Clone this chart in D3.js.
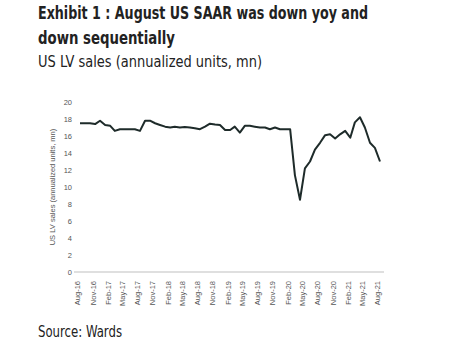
<!DOCTYPE html>
<html>
<head>
<meta charset="utf-8">
<script src="https://cdn.jsdelivr.net/npm/d3@7"></script>
<style>
  body { margin: 0; background: #fff; }
  svg { display: block; }
</style>
</head>
<body>
<svg></svg>
<script>
let width = 451, height = 346;

// Monthly SAAR, Aug-16 .. Aug-21 (mn units)
const months = d3.timeMonths(new Date(2016, 7, 1), new Date(2021, 8, 1));
const sales = [
  17.5, 17.5, 17.5, 17.4, 17.8, 17.3, 17.2, 16.6, 16.8, 16.8, 16.8, 16.8, 16.6,
  17.8, 17.8, 17.5, 17.3, 17.1, 17.0, 17.1, 17.0, 17.05, 17.0, 16.9, 16.8,
  17.1, 17.45, 17.35, 17.3, 16.7, 16.7, 17.1, 16.4, 17.2, 17.2, 17.1, 17.0,
  17.0, 16.8, 17.0, 16.8, 16.8, 16.8, 11.4, 8.5, 12.2, 13.0, 14.4, 15.2,
  16.1, 16.2, 15.7, 16.2, 16.6, 15.8, 17.6, 18.2, 17.0, 15.2, 14.6, 13.0
];
const yTicks = [0, 2, 4, 6, 8, 10, 12, 14, 16, 18, 20];

const titleLines = ["Exhibit 1 : August US SAAR was down yoy and", "down sequentially"];
const subtitle = "US LV sales (annualized units, mn)";
const source = "Source: Wards";
const yLabel = "US LV sales (annualized units, mn)";

let data = months.map((m, i) => ({ date: m, value: sales[i] }));

let svg = d3.select("svg")
  .attr("width", width)
  .attr("height", height);

let font = "'DejaVu Sans Condensed', 'Liberation Sans', sans-serif";

// Titles (squeezed to the condensed look of the original)
let titleWidths = [330, 137];
svg.append("g").selectAll("text")
  .data(titleLines)
  .enter().append("text")
  .attr("x", 38)
  .attr("y", (d, i) => 18.5 + i * 25)
  .attr("textLength", (d, i) => titleWidths[i])
  .attr("lengthAdjust", "spacingAndGlyphs")
  .style("font-family", font)
  .style("font-weight", "bold")
  .style("font-size", "17px")
  .style("fill", "#222")
  .text(d => d);

svg.append("text")
  .attr("x", 38)
  .attr("y", 66.5)
  .attr("textLength", 224)
  .attr("lengthAdjust", "spacingAndGlyphs")
  .style("font-family", font)
  .style("font-size", "16.5px")
  .style("fill", "#222")
  .text(subtitle);

svg.append("text")
  .attr("x", 38)
  .attr("y", 336.5)
  .attr("textLength", 84)
  .attr("lengthAdjust", "spacingAndGlyphs")
  .style("font-family", font)
  .style("font-size", "15px")
  .style("fill", "#222")
  .text(source);

// Scales
let x = d3.scaleTime()
  .domain([months[0], months[months.length - 1]])
  .range([80, 380]);

let y = d3.scaleLinear()
  .domain([0, 20])
  .range([272, 102]);

// Y axis labels (no axis line)
let yAxis = svg.append("g")
  .attr("transform", "translate(72,0)")
  .call(d3.axisLeft(y).tickValues(yTicks).tickSize(0).tickPadding(0));
yAxis.select(".domain").remove();
yAxis.selectAll("text")
  .style("font-family", "'Liberation Sans', Arial, sans-serif")
  .style("font-size", "7.5px")
  .style("fill", "#555");

// X baseline
svg.append("line")
  .attr("x1", 74).attr("x2", 384)
  .attr("y1", y(0)).attr("y2", y(0))
  .attr("stroke", "#d4d4d4")
  .attr("stroke-width", 1.5);

// X axis labels, every quarter
let xTicks = months.filter((m, i) => i % 3 === 0);
let xAxis = svg.append("g")
  .attr("transform", "translate(0," + y(0) + ")")
  .call(d3.axisBottom(x).tickValues(xTicks).tickSize(0).tickFormat(d3.timeFormat("%b-%y")));
xAxis.select(".domain").remove();
xAxis.selectAll("text")
  .attr("transform", "rotate(-90)")
  .attr("text-anchor", "end")
  .attr("x", -9)
  .attr("y", -2.5)
  .attr("dy", "0.32em")
  .style("font-family", "'Liberation Sans', Arial, sans-serif")
  .style("font-size", "7.5px")
  .style("fill", "#555");

// Y axis title
svg.append("text")
  .attr("transform", "translate(55,187) rotate(-90)")
  .attr("text-anchor", "middle")
  .style("font-family", "'Liberation Sans', Arial, sans-serif")
  .style("font-size", "7.5px")
  .style("fill", "#555")
  .text(yLabel);

// Line
svg.append("path")
  .datum(data)
  .attr("fill", "none")
  .attr("stroke", "#1e2b2a")
  .attr("stroke-width", 2)
  .attr("stroke-linejoin", "round")
  .attr("d", d3.line().x(d => x(d.date)).y(d => y(d.value)));
</script>
</body>
</html>
